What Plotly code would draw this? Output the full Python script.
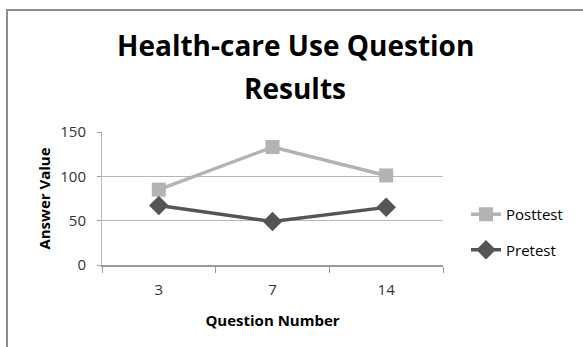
import plotly.graph_objects as go

categories = ["3", "7", "14"]
posttest = [85, 133, 101]
pretest = [67, 49, 65]
y_ticks = [0, 50, 100, 150]
title_lines = ["Health-care Use Question", "Results"]

W, H = 583, 347
L, R, T, B = 102, 140, 132, 82

fig = go.Figure()
fig.add_trace(go.Scatter(
    x=categories, y=posttest, name="Posttest", mode="lines+markers",
    line=dict(color="#b3b3b3", width=3.5),
    marker=dict(symbol="square", size=14, color="#b3b3b3"),
    legendgroup="a",
))
fig.add_trace(go.Scatter(
    x=categories, y=pretest, name="Pretest", mode="lines+markers",
    line=dict(color="#555555", width=3.5),
    marker=dict(symbol="diamond", size=15, color="#555555"),
    legendgroup="b",
))

pw = W - L - R
ph = H - T - B
fig.add_shape(type="rect", xref="paper", yref="paper",
              x0=(7 - L) / pw, x1=(W + 5 - L) / pw,
              y0=(H - B - (H + 5)) / ph, y1=(H - B - 10) / ph,
              line=dict(color="#8c8c8c", width=2), layer="below")

for line_text, cy in zip(title_lines, [45, 88]):
    fig.add_annotation(
        text=f"<b>{line_text}</b>", xref="paper", yref="paper",
        x=(295 - L) / pw, y=(H - B - cy) / ph, xanchor="center", yanchor="middle",
        showarrow=False, font=dict(family="Open Sans", size=28, color="#000000"),
    )

fig.update_layout(
    width=W, height=H,
    margin=dict(l=L, r=R, t=T, b=B),
    paper_bgcolor="white", plot_bgcolor="white",
    font=dict(family="Open Sans", color="#404040", size=15),
    showlegend=True,
    legend=dict(
        x=(466 - L) / pw, xanchor="left", y=(H - B - 198) / ph, yanchor="top",
        font=dict(size=15, color="#000000"), tracegroupgap=13,
        bgcolor="rgba(0,0,0,0)",
    ),
    xaxis=dict(
        type="category", showgrid=False, showline=True, linecolor="#9a9a9a",
        linewidth=1.5, ticks="outside", tickson="boundaries", ticklen=6,
        tickcolor="#9a9a9a", tickfont=dict(size=15, color="#333333"),
        ticklabelstandoff=10,
        title=dict(text="<b>Question Number</b>", font=dict(size=15, color="#000000"), standoff=18),
        range=[-0.5, 2.5], zeroline=False,
    ),
    yaxis=dict(
        range=[0, 150], tickvals=y_ticks, showgrid=True, gridcolor="#b8b8b8",
        gridwidth=1.2, showline=True, linecolor="#b8b8b8", linewidth=1,
        ticks="outside", ticklen=4, tickcolor="#9a9a9a", zeroline=False,
        tickfont=dict(size=15, color="#333333"), ticklabelstandoff=8,
        title=dict(text="<b>Answer Value</b>", font=dict(size=15, color="#000000"), standoff=6),
    ),
)

fig.write_html("out.html")
